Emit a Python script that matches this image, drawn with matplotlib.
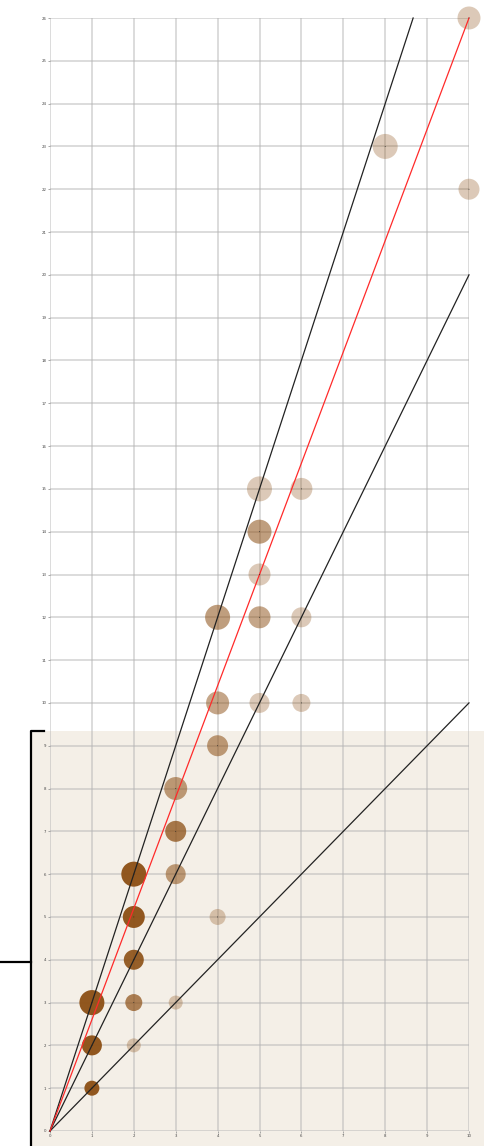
import matplotlib
matplotlib.use("Agg")
import matplotlib.pyplot as plt
from matplotlib.lines import Line2D
from matplotlib.patches import Rectangle

# data
xs = [1, 1, 1, 2, 2, 2, 2, 2, 3, 3, 3, 3, 4, 4, 4, 4, 5, 5, 5, 5, 5, 6, 6, 6, 8, 10, 10]
ys = [1, 2, 3, 2, 3, 4, 5, 6, 3, 6, 7, 8, 5, 9, 10, 12, 10, 12, 13, 14, 15, 10, 12, 15, 23, 22, 26]
diam = [15, 20, 25, 14, 17, 20, 22, 25, 14, 20, 21, 23, 16, 21, 23, 25, 20, 22, 22, 24, 25, 18, 20, 22, 25, 21, 23]
opacity = [0.95, 0.95, 0.95, 0.3, 0.7, 0.9, 0.95, 0.95, 0.3, 0.55, 0.75, 0.55, 0.3, 0.55, 0.5, 0.55,
           0.3, 0.5, 0.3, 0.55, 0.3, 0.3, 0.3, 0.3, 0.3, 0.3, 0.3]
ref_slopes = [3, 2, 1]
red_slope = 2.6
x_ticks = list(range(0, 11))
y_ticks = list(range(0, 27))

W, H = 497, 1146
dpi = 100
fig = plt.figure(figsize=(W / dpi, H / dpi), dpi=dpi)

def fx(px):
    return px / W

def fy(py):
    return 1 - py / H

# shaded background region
fig.patches.append(Rectangle((fx(30), 0), fx(484) - fx(30), fy(731), transform=fig.transFigure,
                             facecolor="#f4efe7", edgecolor="none", zorder=-5))
# bracket
fig.lines.append(Line2D([fx(44), fx(31), fx(31)], [fy(731), fy(731), 0], transform=fig.transFigure,
                        color="black", lw=1.6, zorder=-4))
fig.lines.append(Line2D([0, fx(31)], [fy(962), fy(962)], transform=fig.transFigure,
                        color="black", lw=1.6, zorder=-4))

ax = fig.add_axes([fx(50), fy(1131), fx(469) - fx(50), fy(18) - fy(1131)])
ax.set_zorder(1)
ax.patch.set_alpha(0)
ax.set_xlim(0, 10)
ax.set_ylim(0, 26)
ax.set_xticks(x_ticks)
ax.set_yticks(y_ticks)
ax.grid(True, color="#b4b4b4", alpha=0.6, lw=1.1, zorder=0)
ax.set_axisbelow(True)
for s in ax.spines.values():
    s.set_visible(False)
ax.tick_params(labelsize=2.8, labelcolor="#444444", length=1.5, width=0.6, color="#999999", pad=1)

# reference lines
for k in ref_slopes:
    x_end = min(10, 26 / k)
    ax.plot([0, x_end], [0, k * x_end], color="#222222", lw=0.9, zorder=3, clip_on=False)
ax.plot([0, 10], [0, red_slope * 10], color="#ff2a2a", lw=0.9, zorder=3, clip_on=False)

# bubbles
sizes = [(d * 72 / dpi) ** 2 for d in diam]
colors = [(0.55, 0.31, 0.08, a) for a in opacity]
ax.scatter(xs, ys, s=sizes, c=colors, edgecolors="none", zorder=2, clip_on=False)
ax.scatter(xs, ys, s=0.4, c="#222222", edgecolors="none", zorder=4, clip_on=False)

fig.savefig("out.png", dpi=dpi)
